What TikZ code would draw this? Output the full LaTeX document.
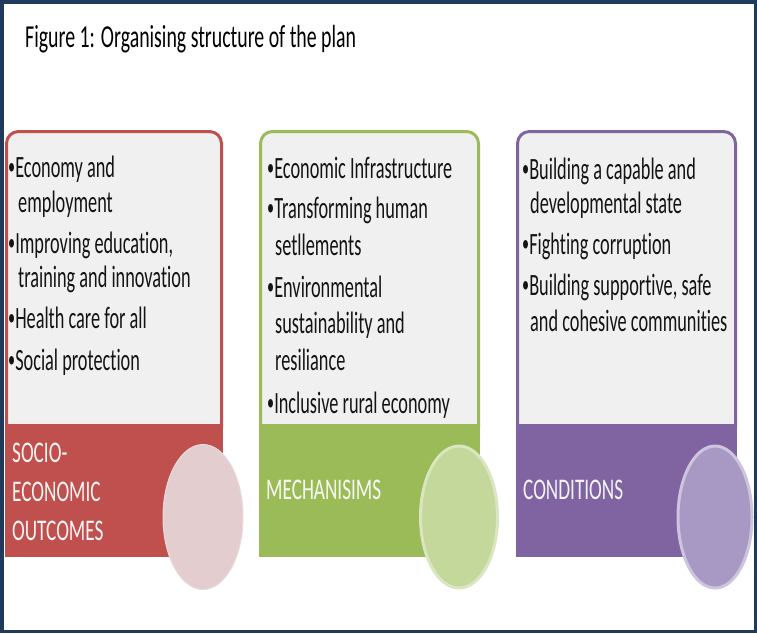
\documentclass[tikz,border=0pt]{standalone}
\usepackage{fontspec}
\setmainfont{Carlito}[FakeStretch=0.59, Ligatures=NoCommon]
\newfontfamily\titlefont{Carlito}[FakeStretch=0.62, Ligatures=NoCommon]
\newfontfamily\labelfont{Carlito}[FakeStretch=0.64, Ligatures=NoCommon]
\newcommand\mybul{\raisebox{2.5pt}{\fontsize{24}{24}\selectfont •}}
\usetikzlibrary{shapes.geometric}
\definecolor{navy}{HTML}{1F3A5A}
\definecolor{boxfill}{HTML}{F0F0F1}
\definecolor{cred}{HTML}{C0504D}
\definecolor{cgreen}{HTML}{9BBB59}
\definecolor{cpurple}{HTML}{8064A2}
\definecolor{ered}{HTML}{E4CDCF}
\definecolor{egreen}{HTML}{C4D89B}
\definecolor{epurple}{HTML}{A899C4}
\definecolor{rgreen}{HTML}{D9E6C0}
\definecolor{rpurple}{HTML}{CDC4DE}
\definecolor{rred}{HTML}{EADADB}
\tikzset{
  frame/.style={draw=navy, line width=3.5pt},
  lightbox/.style={fill=boxfill, line width=3pt, rounded corners=12pt},
  oval/.style={ellipse, inner sep=0pt, minimum width=80pt, minimum height=145pt},
  titletext/.style={anchor=base west, inner sep=0pt, font=\titlefont\fontsize{32}{38}\selectfont, text=black},
  body/.style={anchor=base west, inner sep=0pt, font=\fontsize{31}{37}\selectfont, text=black!92},
  lbl/.style={anchor=base west, inner sep=0pt, font=\labelfont\fontsize{30}{36}\selectfont},
}
\begin{document}
\begin{tikzpicture}[x=1pt,y=-1pt]
\useasboundingbox (0,0) rectangle (757,633);
\fill[white] (0,0) rectangle (757,633);
\draw[frame] (1.75,1.75) rectangle (755.25,631.25);
\node[titletext] (title) at (25,47) {Figure 1: Organising structure of the plan};

% red column
\draw[lightbox, draw=cred] (6.5,131.5) rectangle (221.5,440);
\fill[cred] (5,424) rectangle (223,557);
\node[body] (r1) at (8,177) {\mybul Economy and};
\node[body] (r2) at (18,212) {employment};
\node[body] (r3) at (8,253) {\mybul Improving education,};
\node[body] (r4) at (18,287) {training and innovation};
\node[body] (r5) at (8,328) {\mybul Health care for all};
\node[body] (r6) at (8,370) {\mybul Social protection};
\node[lbl, text=white!95!cred] (rl1) at (12,462) {SOCIO-};
\node[lbl, text=white!95!cred] (rl2) at (12,501) {ECONOMIC};
\node[lbl, text=white!95!cred] (rl3) at (12,540) {OUTCOMES};
\node[oval, fill=ered, draw=rred, line width=1pt] (e1) at (203,517) {};

% green column
\draw[lightbox, draw=cgreen] (260.5,131.5) rectangle (478.5,440);
\fill[cgreen] (259,424) rectangle (480,557);
\node[body] (g1) at (267,178) {\mybul Economic Infrastructure};
\node[body] (g2) at (267,218) {\mybul Transforming human};
\node[body] (g3) at (275,255) {setllements};
\node[body] (g4) at (267,297) {\mybul Environmental};
\node[body] (g5) at (275,333) {sustainability and};
\node[body] (g6) at (275,370) {resiliance};
\node[body] (g7) at (267,413) {\mybul Inclusive rural economy};
\node[lbl, text=white!92!cgreen] (gl1) at (266,499) {MECHANISIMS};
\node[oval, fill=egreen, draw=rgreen, line width=3pt, minimum width=77pt, minimum height=142pt] (e2) at (459,517) {};

% purple column
\draw[lightbox, draw=cpurple] (517.5,131.5) rectangle (735.5,440);
\fill[cpurple] (516,424) rectangle (737,557);
\node[body] (p1) at (522,179) {\mybul Building a capable and};
\node[body] (p2) at (530,213) {developmental state};
\node[body] (p3) at (522,254) {\mybul Fighting corruption};
\node[body] (p4) at (522,295) {\mybul Building supportive, safe};
\node[body] (p5) at (530,331) {and cohesive communities};
\node[lbl, text=white!92!cpurple] (pl1) at (523,499) {CONDITIONS};
\node[oval, fill=epurple, draw=rpurple, line width=3pt, minimum width=74pt, minimum height=142pt] (e3) at (715,517) {};
\end{tikzpicture}
\end{document}
